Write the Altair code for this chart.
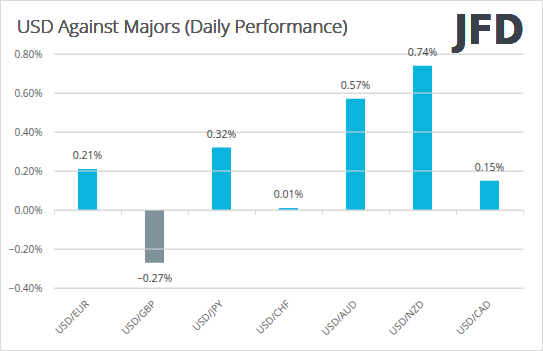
import altair as alt
import pandas as pd

categories = ["USD/EUR", "USD/GBP", "USD/JPY", "USD/CHF", "USD/AUD", "USD/NZD", "USD/CAD"]
pct_values = [0.21, -0.27, 0.32, 0.01, 0.57, 0.74, 0.15]
y_ticks = [-0.4, -0.2, 0.0, 0.2, 0.4, 0.6, 0.8]
title_text = "USD Against Majors (Daily Performance)"
logo_text = "JFD"

df = pd.DataFrame({"pair": categories, "value": [v / 100 for v in pct_values]})
grid_df = pd.DataFrame({"gridval": [round(v / 100, 6) for v in y_ticks]})

FONT = "Open Sans"
CYAN = "#0BB4DD"
GRAY = "#7F9199"
GRID = "#D9D9D9"

W, H = 469, 234

x_scale = alt.Scale(domain=categories, paddingInner=0, paddingOuter=0)
y_scale = alt.Scale(domain=[-0.004, 0.008], nice=False)
y_axis = alt.Axis(values=[round(v / 100, 6) for v in y_ticks], format=".2%", domain=False,
                  ticks=False, labelPadding=12, labelFont=FONT, labelFontSize=10,
                  labelColor="#595959", grid=True, gridColor=GRID, gridOpacity=1,
                  gridWidth=1, labelOverlap=False)

grid = alt.Chart(grid_df).mark_rule(stroke=GRID, strokeWidth=1, opacity=1).encode(
    y=alt.Y("gridval:Q", scale=y_scale, title=None, axis=y_axis)
)

bars = alt.Chart(df).mark_bar(width=alt.RelativeBandSize(0.285)).encode(
    x=alt.X("pair:N", scale=x_scale, sort=categories, title=None,
            axis=alt.Axis(orient="bottom", offset=-78, labels=False, domainColor=GRID,
                          tickColor=GRID, tickSize=4, tickBand="extent", grid=False)),
    y=alt.Y("value:Q", scale=y_scale, title=None, axis=y_axis),
    color=alt.condition(alt.datum.value < 0, alt.value(GRAY), alt.value(CYAN)),
)

pos_labels = alt.Chart(df).transform_filter(alt.datum.value >= 0).mark_text(
    baseline="alphabetic", dy=-10, font=FONT, fontSize=10.5, color="#404040"
).encode(
    x=alt.X("pair:N", scale=x_scale, sort=categories, title=None,
            axis=alt.Axis(orient="bottom", domain=False, ticks=False, labelAngle=-45,
                          labelAlign="right", labelBaseline="middle", labelPadding=14,
                          labelFont=FONT, labelFontSize=10, labelColor="#595959")),
    y=alt.Y("value:Q", scale=y_scale, title=None, axis=y_axis),
    text=alt.Text("value:Q", format=".2%"),
)

neg_labels = alt.Chart(df).transform_filter(alt.datum.value < 0).mark_text(
    baseline="alphabetic", dy=19, font=FONT, fontSize=10.5, color="#404040"
).encode(
    x=alt.X("pair:N", scale=x_scale, sort=categories, title=None, axis=None),
    y=alt.Y("value:Q", scale=y_scale, title=None, axis=y_axis),
    text=alt.Text("value:Q", format=".2%"),
)

title = alt.Chart(df).mark_text(
    text=title_text, font=FONT, fontSize=18.5, fontWeight=300, color="#595959",
    align="left", baseline="alphabetic"
).encode(x=alt.value(-37), y=alt.value(-21))

logo = alt.Chart(df).mark_text(
    text=logo_text, font="DejaVu Sans Condensed", fontWeight="bold", fontSize=41,
    color="#3A4049", align="center", baseline="alphabetic"
).encode(x=alt.value(435), y=alt.value(-10))

border = alt.Chart(df).mark_rect(
    filled=False, stroke=GRID, strokeWidth=1
).encode(x=alt.value(-53.5), x2=alt.value(488.5), y=alt.value(-53.5), y2=alt.value(296.5))

chart = alt.layer(bars, grid, pos_labels, neg_labels, title, logo, border).resolve_axis(
    x="independent"
).properties(
    width=W, height=H,
    autosize=alt.AutoSizeParams(type="none"),
    padding={"left": 54, "top": 54, "right": 20, "bottom": 63},
).configure_view(stroke=None)

chart.save("out.html", embed_options={"renderer": "svg", "actions": False})
